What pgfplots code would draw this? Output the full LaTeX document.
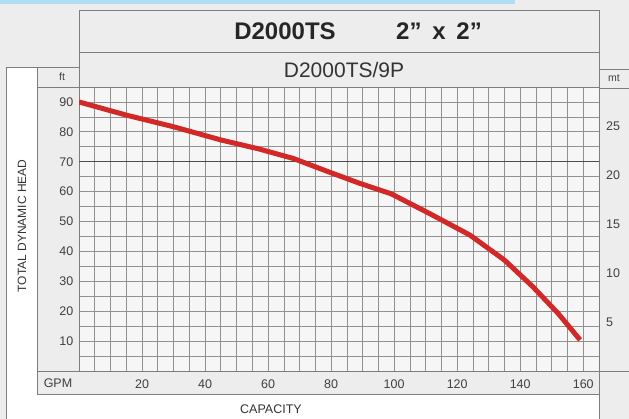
\documentclass[border=0pt]{standalone}
\usepackage{fontspec}
\setmainfont{Liberation Sans}
\usepackage{pgfplots}
\pgfplotsset{compat=1.18}
\definecolor{bgc}{RGB}{237,237,237}
\definecolor{gridbg}{RGB}{246,246,246}
\definecolor{frame}{RGB}{125,125,125}
\definecolor{gridc}{RGB}{145,145,145}
\definecolor{curve}{RGB}{210,40,40}
\definecolor{topblue}{RGB}{175,222,242}
\begin{document}
\begin{tikzpicture}[x=1pt,y=1pt]
\useasboundingbox (0,0) rectangle (629,419);
\fill[bgc] (0,0) rectangle (629,419);
\fill[topblue] (0,415) rectangle (515,419);
\fill[white] (6,0) rectangle (37,352);
\fill[white] (6,0) rectangle (599,25);
\begin{axis}[
  at={(79pt,48pt)}, anchor=south west, scale only axis,
  width=520pt, height=284pt,
  xmin=0, xmax=165, ymin=0, ymax=95,
  xtick={20,40,...,160}, ytick={10,20,...,90},
  minor xtick={0,5,...,165}, minor ytick={0,5,...,95},
  grid=both,
  major grid style={gridc, line width=0.7pt},
  minor grid style={gridc, line width=0.7pt},
  major tick length=0pt, minor tick length=0pt,
  axis line style={frame, line width=0.8pt},
  axis background/.style={fill=gridbg},
  /pgf/number format/assume math mode=true,
  tick label style={font=\fontsize{12.5}{14}\selectfont, text=black!75, inner sep=0pt},
  xticklabel style={anchor=center, yshift=-13pt},
  yticklabel style={anchor=east, xshift=-5.5pt},
]
\addplot[black!70, line width=1.4pt, forget plot] coordinates {(0,70) (165,70)};
\addplot[curve, line width=5pt, line join=round] coordinates {
(0,90) (15,85.6) (30,81.7) (45,77.3) (57,74.3) (68,71.1) (79,66.7) (89,62.8) (99,59.3) (111,52.8) (124,45.5) (135,37.1) (144,28.2) (152,19.3) (159,10.4)
};
\end{axis}
\begin{axis}[
  at={(79pt,48pt)}, anchor=south west, scale only axis,
  width=520pt, height=284pt,
  xmin=0, xmax=165, ymin=0, ymax=28.956,
  hide x axis, axis y line*=right,
  ytick={5,10,...,25},
  major tick length=0pt,
  axis line style={draw=none},
  /pgf/number format/assume math mode=true,
  yticklabel style={font=\fontsize{12.5}{14}\selectfont, text=black!75, inner sep=0pt, anchor=west, xshift=7pt},
]
\addplot[draw=none] coordinates {(0,0) (165,28.956)};
\end{axis}
% frames
\begin{scope}[frame, line width=0.8pt]
\draw (79,409) rectangle (599,367);
\draw (79,367) -- (79,332);
\draw (599,409) -- (599,0);
\draw (6,0) -- (6,352) -- (79,352);
\draw (37,352) -- (37,25);
\draw (37,332) -- (79,332);
\draw (37,48) -- (629,48);
\draw (37,25) -- (599,25);
\draw (599,350) -- (629,350);
\draw (599,331) -- (629,331);
\end{scope}
% texts
\node[font=\fontsize{24}{26}\selectfont\bfseries, text=black!85] at (285,388) {D2000TS};
\node[font=\fontsize{24}{26}\selectfont\bfseries, text=black!85] at (439,388) {2”\hspace{0.45em}x\hspace{0.45em}2”};
\node[font=\fontsize{21}{23}\selectfont, text=black!80] at (344,349) {D2000TS/9P};
\node[font=\fontsize{10.5}{12}\selectfont, text=black!75] at (62,342) {ft};
\node[font=\fontsize{10.5}{12}\selectfont, text=black!75] at (614,341) {mt};
\node[font=\fontsize{12.5}{14}\selectfont, text=black!75] at (58,36) {GPM};
\node[font=\fontsize{12.5}{14}\selectfont, text=black!80] at (271,10) {CAPACITY};
\node[font=\fontsize{12}{14}\selectfont, text=black!80, rotate=90] at (22,193) {TOTAL DYNAMIC HEAD};
\end{tikzpicture}
\end{document}
